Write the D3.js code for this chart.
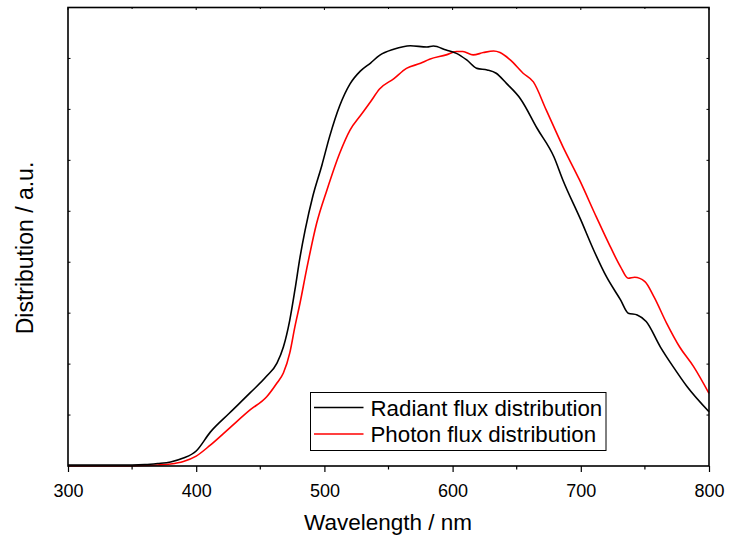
<!DOCTYPE html>
<html>
<head>
<meta charset="utf-8">
<script src="https://cdn.jsdelivr.net/npm/d3@7"></script>
<style>
  body { margin: 0; background: #fff; }
  svg text { font-family: "Liberation Sans", Arial, sans-serif; fill: #000; }
</style>
</head>
<body>
<svg id="chart"></svg>
<script>
// wavelength (nm) and relative values
const radiantWl = [300, 340, 360, 370, 380, 390, 400, 411, 426, 442, 455, 463, 468, 473, 477, 481, 485, 491, 498, 504, 512, 520, 528, 536, 543, 554, 567, 580, 585, 595, 603, 611, 619, 627, 634, 642, 653, 666, 679, 686, 700, 710, 720, 731, 737, 744, 751, 762, 772, 783, 800];
const radiantVal = [0.004, 0.004, 0.006, 0.010, 0.016, 0.031, 0.059, 0.133, 0.208, 0.287, 0.353, 0.404, 0.467, 0.573, 0.691, 0.820, 0.927, 1.060, 1.180, 1.292, 1.415, 1.500, 1.550, 1.582, 1.612, 1.636, 1.650, 1.645, 1.649, 1.633, 1.620, 1.594, 1.561, 1.555, 1.542, 1.502, 1.441, 1.325, 1.214, 1.123, 0.966, 0.848, 0.743, 0.652, 0.600, 0.593, 0.567, 0.468, 0.390, 0.311, 0.213];

const photonWl = [300, 340, 360, 370, 380, 390, 400, 411, 426, 442, 455, 463, 468, 473, 477, 481, 486, 494, 502, 512, 520, 528, 536, 543, 554, 564, 575, 582, 595, 603, 608, 616, 624, 632, 637, 645, 655, 663, 673, 686, 699, 712, 723, 731, 737, 742, 750, 757, 767, 777, 788, 800];
const photonVal = [0.000, 0.000, 0.002, 0.004, 0.008, 0.018, 0.039, 0.082, 0.149, 0.220, 0.272, 0.326, 0.365, 0.444, 0.547, 0.640, 0.769, 0.954, 1.084, 1.229, 1.319, 1.375, 1.430, 1.480, 1.520, 1.561, 1.581, 1.597, 1.614, 1.627, 1.627, 1.614, 1.623, 1.629, 1.623, 1.594, 1.542, 1.508, 1.398, 1.254, 1.123, 0.979, 0.861, 0.782, 0.737, 0.741, 0.724, 0.665, 0.560, 0.468, 0.390, 0.285];

const seriesNames = ['Radiant flux distribution', 'Photon flux distribution'];
const seriesColors = ['#000000', '#ff0000'];
const xTicks = [300, 400, 500, 600, 700, 800];

const width = 729, height = 544;
const margin = { top: 7.5, right: 20, bottom: 78, left: 68 };

const svg = d3.select('#chart').attr('width', width).attr('height', height);

const x = d3.scaleLinear().domain([300, 800]).range([margin.left, width - margin.right]);
const y = d3.scaleLinear().domain([0, 1.8]).range([height - margin.bottom, margin.top]);

const plotW = width - margin.left - margin.right;
const plotH = height - margin.top - margin.bottom;

// curves
const series = [
    radiantWl.map((w, i) => [w, radiantVal[i]]),
    photonWl.map((w, i) => [w, photonVal[i]])
];
const line = d3.line()
    .x(d => x(d[0]))
    .y(d => y(d[1]))
    .curve(d3.curveMonotoneX);

// draw red first so black sits on top where they meet
[1, 0].forEach(i => {
    svg.append('path')
        .datum(series[i])
        .attr('fill', 'none')
        .attr('stroke', seriesColors[i])
        .attr('stroke-width', 1.6)
        .attr('d', line);
});

// bottom axis: major ticks outward, minor ticks between
const xMinor = d3.range(350, 800, 100);
const bottom = svg.append('g').attr('transform', `translate(0,${height - margin.bottom})`);
bottom.call(d3.axisBottom(x).tickValues(xTicks).tickSize(6).tickFormat(d3.format('d')))
    .call(g => g.select('.domain').remove())
    .call(g => g.selectAll('line').attr('stroke', '#000').attr('stroke-width', 1.2))
    .call(g => g.selectAll('text').attr('font-size', 18).attr('dy', '1.2em'));
bottom.selectAll('.minor').data(xMinor).join('line')
    .attr('x1', d => x(d)).attr('x2', d => x(d))
    .attr('y1', 0).attr('y2', 3.5)
    .attr('stroke', '#000').attr('stroke-width', 1.2);

// top axis ticks, inward
svg.append('g').selectAll('line').data(xTicks.concat(xMinor)).join('line')
    .attr('x1', d => x(d)).attr('x2', d => x(d))
    .attr('y1', margin.top).attr('y2', d => margin.top + (d % 100 === 0 ? 2.5 : 1.5))
    .attr('stroke', '#000').attr('stroke-width', 1);

// y ticks on left and right, inward, no labels
const yTicks = d3.range(0.2, 1.8, 0.2);
svg.append('g').selectAll('line').data(yTicks).join('line')
    .attr('x1', margin.left).attr('x2', margin.left + 2.5)
    .attr('y1', d => y(d)).attr('y2', d => y(d))
    .attr('stroke', '#000').attr('stroke-width', 1);
svg.append('g').selectAll('line').data(yTicks).join('line')
    .attr('x1', width - margin.right).attr('x2', width - margin.right - 2.5)
    .attr('y1', d => y(d)).attr('y2', d => y(d))
    .attr('stroke', '#000').attr('stroke-width', 1);

// frame
svg.append('rect')
    .attr('x', margin.left).attr('y', margin.top)
    .attr('width', plotW).attr('height', plotH)
    .attr('fill', 'none').attr('stroke', '#000').attr('stroke-width', 1.6);

// axis titles
svg.append('text')
    .attr('x', 388)
    .attr('y', 530)
    .attr('text-anchor', 'middle')
    .attr('font-size', 22.5)
    .text('Wavelength / nm');

svg.append('text')
    .attr('transform', `translate(33,248) rotate(-90)`)
    .attr('text-anchor', 'middle')
    .attr('font-size', 23)
    .text('Distribution / a.u.');

// legend
const legend = svg.append('g').attr('transform', 'translate(310.5,392.5)');
legend.append('rect')
    .attr('width', 295.5).attr('height', 58)
    .attr('fill', '#fff').attr('stroke', '#000').attr('stroke-width', 1);
seriesNames.forEach((name, i) => {
    const row = legend.append('g').attr('transform', `translate(0,${15 + i * 26.5})`);
    row.append('line')
        .attr('x1', 3.5).attr('x2', 53)
        .attr('stroke', seriesColors[i]).attr('stroke-width', 1.6);
    row.append('text')
        .attr('x', 60)
        .attr('dy', '0.36em')
        .attr('font-size', 22.3)
        .text(name);
});
</script>
</body>
</html>
